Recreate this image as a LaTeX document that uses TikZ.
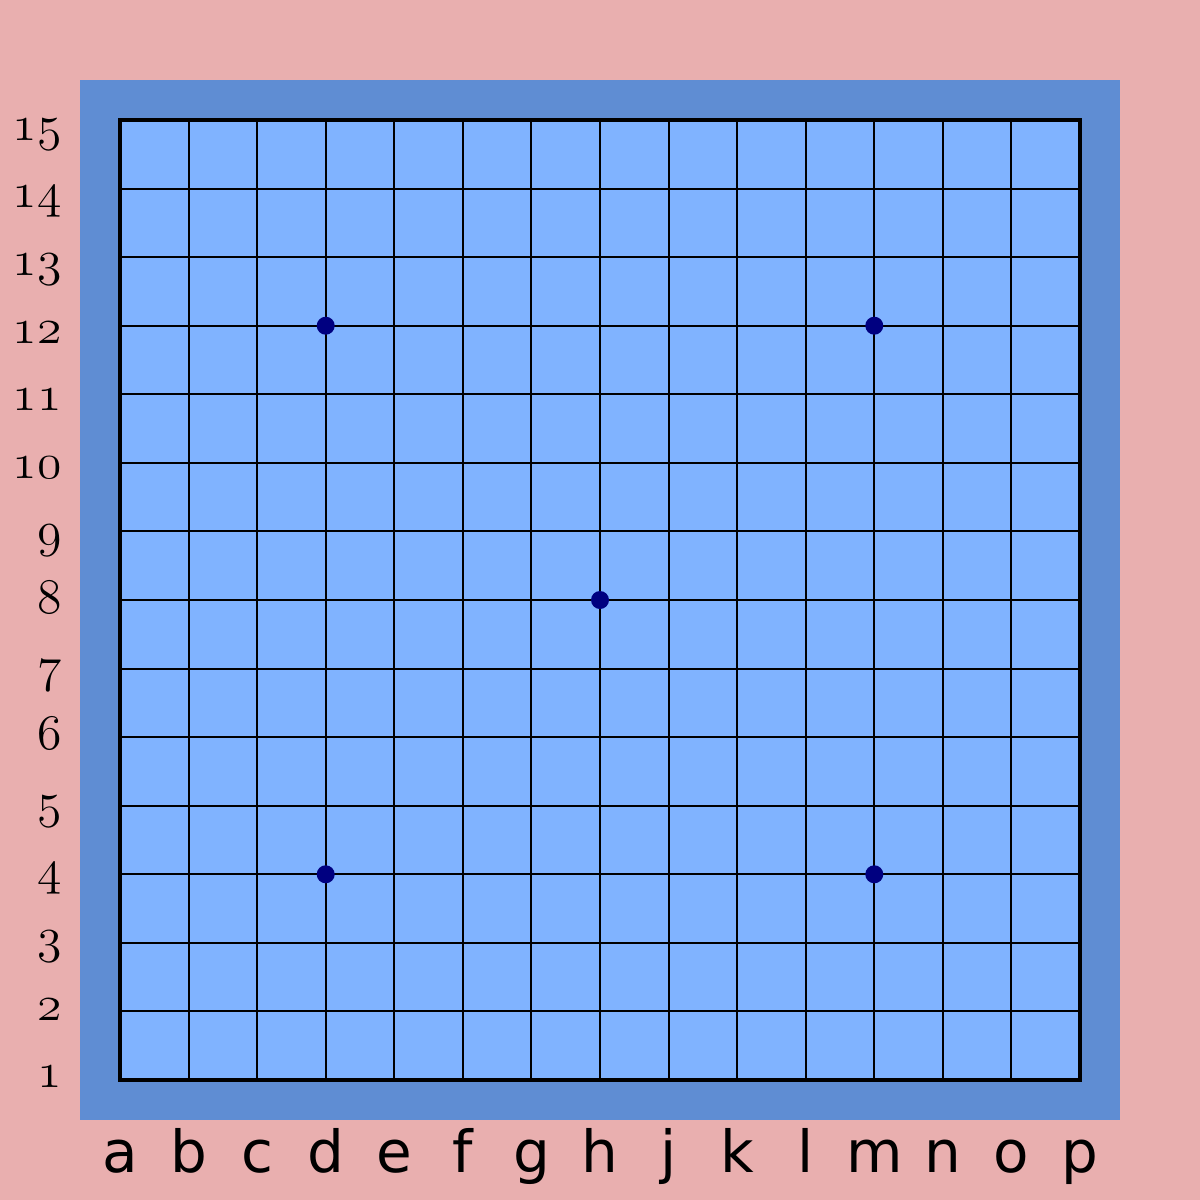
\documentclass[tikz,border=0pt]{standalone}
\usepackage{fontspec}
\newfontfamily\labfont{DejaVu Sans}
\newcommand{\osnum}[1]{{\fontencoding{OML}\fontfamily{lmm}\fontseries{b}\fontshape{it}\fontsize{23}{28}\selectfont #1}}
\definecolor{bgpink}{HTML}{E9AFAF}
\definecolor{frameblue}{HTML}{5F8DD3}
\definecolor{boardblue}{HTML}{80B3FF}
\definecolor{stonenavy}{HTML}{000080}
\tikzset{
  gridline/.style={draw=black, line width=1pt},
  boardedge/.style={draw=black, line width=2pt},
  starpt/.style={circle, fill=stonenavy, minimum size=9pt, inner sep=0pt},
  collabel/.style={anchor=base, inner sep=0pt, font=\labfont\fontsize{29}{34}\selectfont},
  rowlabel/.style={anchor=base east, inner sep=0pt}
}
\begin{document}
\begin{tikzpicture}[x=0.5pt,y=-0.5pt]
\fill[bgpink] (0,0) rectangle (1200,1200);
\fill[frameblue] (80,80) rectangle (1120,1120);
\fill[boardblue] (120,120) rectangle (1080,1080);
\foreach \i in {1,...,13} {
  \draw[gridline] ({120+\i*960/14},120) -- ({120+\i*960/14},1080);
  \draw[gridline] (120,{120+\i*960/14}) -- (1080,{120+\i*960/14});
}
\draw[boardedge] (120,120) rectangle (1080,1080);
\foreach \c/\r/\n in {3/3/d12, 11/3/m12, 7/7/h8, 3/11/d4, 11/11/m4} {
  \node[starpt] (star-\n) at ({120+\c*960/14},{120+\r*960/14}) {};
}
\foreach \l [count=\i from 0] in {a,b,c,d,e,f,g,h,j,k,l,m,n,o,p} {
  \node[collabel] (col-\l) at ({120+\i*960/14},1172) {\l};
}
\foreach \k in {1,...,15} {
  \node[rowlabel] (row-\k) at (62,{140+(15-\k)*67.7}) {\osnum{\k}};
}
\end{tikzpicture}
\end{document}
